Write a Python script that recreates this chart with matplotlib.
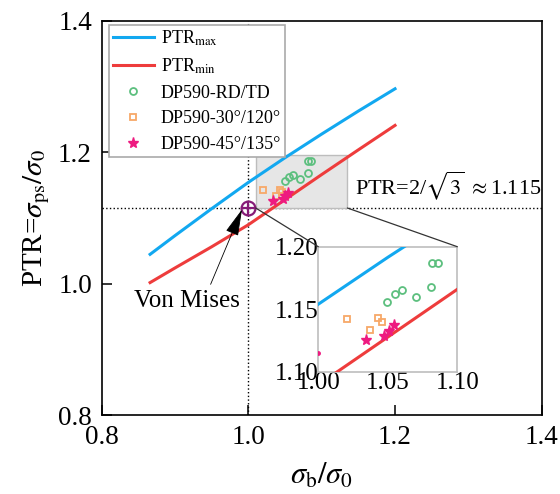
import matplotlib
matplotlib.use("Agg")
import matplotlib.pyplot as plt
from matplotlib.patches import Rectangle, ConnectionPatch, ArrowStyle
from matplotlib.ticker import FormatStrFormatter

plt.rcParams['font.family'] = ['Liberation Serif', 'DejaVu Serif']
plt.rcParams['mathtext.fontset'] = 'stix'

# ---- data ----
ptr_max_x = [0.866, 0.90, 0.95, 1.00, 1.05, 1.10, 1.15, 1.20]
ptr_max_y = [1.0445, 1.0730, 1.1140, 1.1540, 1.1915, 1.2275, 1.2625, 1.2964]
ptr_min_x = [0.866, 0.90, 0.95, 1.00, 1.05, 1.10, 1.15, 1.20]
ptr_min_y = [1.0015, 1.0238, 1.0560, 1.0895, 1.1277, 1.1659, 1.2035, 1.2407]

rdtd_x = [1.0496, 1.0552, 1.0604, 1.0703, 1.0809, 1.0820, 1.0861]
rdtd_y = [1.1560, 1.1620, 1.1654, 1.1594, 1.1680, 1.1870, 1.1866]
d30_x = [1.0203, 1.0373, 1.0433, 1.0457]
d30_y = [1.1419, 1.1336, 1.1429, 1.1398]
d45_x = [1.0341, 1.0475, 1.0506, 1.0542]
d45_y = [1.1251, 1.1286, 1.1326, 1.1371]

vm_x, vm_y = 1.0, 1.115
zoom_box = (1.01, 1.115, 1.135, 1.195)   # x0, y0, x1, y1

blue = '#12A8F0'
red = '#EE3C3C'
green = '#5CBF7E'
orange = '#F7A868'
magenta = '#EE1A80'
purple = '#861C78'

fig = plt.figure(figsize=(5.6, 4.94), dpi=100)
ax = fig.add_axes([0.1816, 0.1599, 0.7857, 0.7982])

ax.axvline(vm_x, color='black', ls=':', lw=1.0, zorder=1)
ax.axhline(vm_y, color='black', ls=':', lw=1.0, zorder=1)

ax.add_patch(Rectangle((zoom_box[0], zoom_box[1]), zoom_box[2] - zoom_box[0],
                       zoom_box[3] - zoom_box[1], facecolor='#E6E6E6',
                       edgecolor='#BDBDBD', lw=1.0, zorder=1.5))

def draw(a, lw=2.2, vm=True):
    a.plot(ptr_max_x, ptr_max_y, color=blue, lw=lw, label='PTR$_{\\rm max}$', zorder=3)
    a.plot(ptr_min_x, ptr_min_y, color=red, lw=lw, label='PTR$_{\\rm min}$', zorder=3)
    a.plot(rdtd_x, rdtd_y, ls='none', marker='o', ms=5, mfc='none',
           mec=green, mew=1.3, label='DP590-RD/TD', zorder=4)
    a.plot(d30_x, d30_y, ls='none', marker='s', ms=5, mfc='none',
           mec=orange, mew=1.3, label='DP590-30°/120°', zorder=4)
    a.plot(d45_x, d45_y, ls='none', marker='*', ms=8, color=magenta,
           mec=magenta, label='DP590-45°/135°', zorder=4)
    if vm:
        a.plot([vm_x], [vm_y], ls='none', marker='o', ms=10, mfc='none', mec=purple,
               mew=1.6, zorder=5)
        a.plot([vm_x], [vm_y], ls='none', marker='+', ms=10, mec=purple, mew=1.6, zorder=5)
    else:
        a.plot([vm_x], [vm_y], ls='none', marker='o', ms=2.5, color=magenta, zorder=5)

draw(ax)

ax.set_xlim(0.8, 1.4)
ax.set_ylim(0.8, 1.4)
ax.set_xticks([0.8, 1.0, 1.2, 1.4])
ax.set_yticks([0.8, 1.0, 1.2, 1.4])
ax.xaxis.set_major_formatter(FormatStrFormatter('%.1f'))
ax.yaxis.set_major_formatter(FormatStrFormatter('%.1f'))
ax.tick_params(direction='in', length=7, width=1.1, labelsize=19.5, pad=7)
for s in ax.spines.values():
    s.set_linewidth(1.2)

ax.set_xlabel(r'$\sigma_{\rm b}/\sigma_0$', fontsize=22, va='center')
ax.set_ylabel(r'PTR=$\sigma_{\rm ps}/\sigma_0$', fontsize=21, va='center')
ax.xaxis.set_label_coords(0.5, -0.155)
ax.yaxis.set_label_coords(-0.148, 0.5)

ax.text(1.272, 1.149, r'PTR=2/$\sqrt{3}$ $\approx$1.115', fontsize=16,
        ha='center', va='center', zorder=6)

ax.annotate('Von Mises', xy=(0.9913, 1.1127), xytext=(0.9166, 0.974),
            fontsize=18, ha='center', va='center', zorder=6,
            arrowprops=dict(arrowstyle=ArrowStyle('-|>', head_length=1.4, head_width=0.35),
                            mutation_scale=12, color='black', lw=0.6,
                            relpos=(0.7, 1.0), shrinkA=2, shrinkB=0))

leg = ax.legend(loc='upper left', bbox_to_anchor=(0.016, 0.99), fontsize=13,
                frameon=True, fancybox=False, edgecolor='#AAAAAA', framealpha=1,
                handlelength=2.3, handletextpad=0.35, labelspacing=0.48,
                borderpad=0.22, borderaxespad=0.0)
leg.get_frame().set_linewidth(1.2)
leg.set_zorder(10)

# inset
axins = fig.add_axes([0.5684, 0.2476, 0.2482, 0.2530])
draw(axins, lw=2.2, vm=False)
axins.set_xlim(1.0, 1.1)
axins.set_ylim(1.1, 1.2)
axins.set_xticks([1.00, 1.05, 1.10])
axins.set_yticks([1.10, 1.15, 1.20])
axins.xaxis.set_major_formatter(FormatStrFormatter('%.2f'))
axins.yaxis.set_major_formatter(FormatStrFormatter('%.2f'))
axins.tick_params(length=0, labelsize=18, pad=0)
for s in axins.spines.values():
    s.set_color('#BDBDBD')
    s.set_linewidth(1.2)

for (xa, ya), (xb, yb) in [((zoom_box[0], zoom_box[1]), (0, 1)),
                           ((zoom_box[2], zoom_box[1]), (1, 1))]:
    cp = ConnectionPatch(xyA=(xa, ya), coordsA=ax.transData,
                         xyB=(xb, yb), coordsB=axins.transAxes,
                         color='#333333', lw=0.9, zorder=2)
    fig.add_artist(cp)

fig.savefig('out.png', dpi=100)
